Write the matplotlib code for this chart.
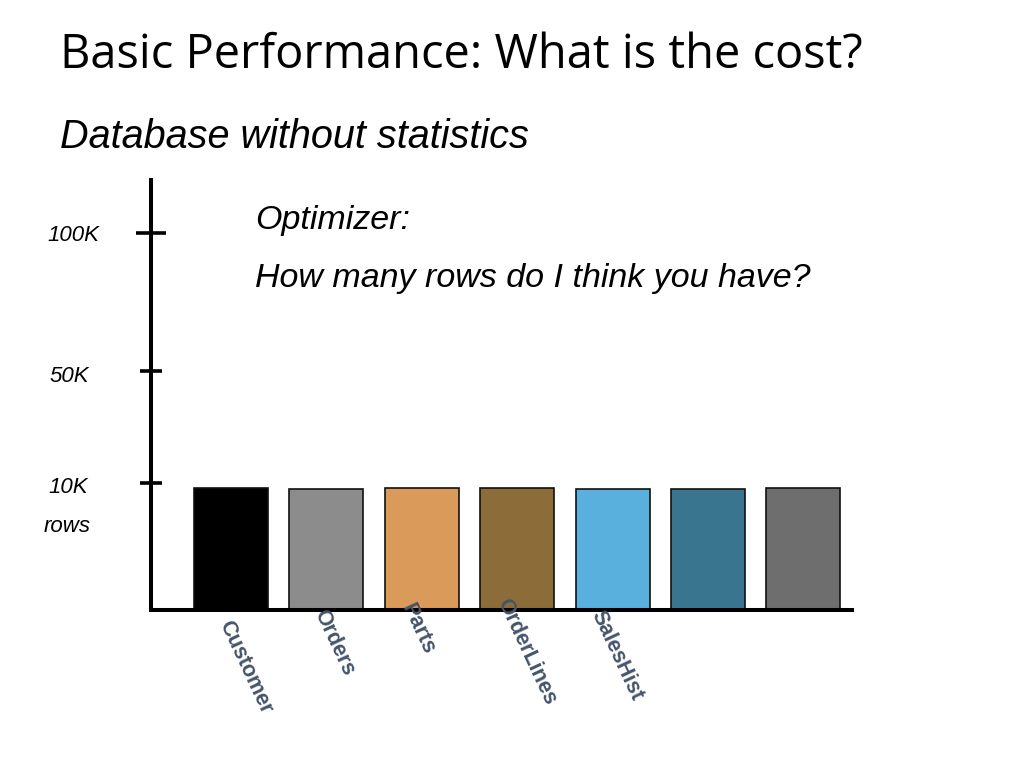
import numpy as np
import matplotlib
matplotlib.use("Agg")
import matplotlib.pyplot as plt
from matplotlib.transforms import blended_transform_factory

# ---- data ----
categories = ["Customer", "Orders", "Parts", "OrderLines", "SalesHist", "", ""]
rows_estimate = [9600, 9520, 9600, 9600, 9520, 9520, 9600]
bar_colors = ["#000000", "#8c8c8c", "#d99a5a", "#8c6d3a", "#5ab0dc", "#3a7590", "#6e6e6e"]
tick_values = [10000, 50000]
tick_major_value = [100000]
tick_labels = ["10K", "50K"]
tick_major_label = ["100K"]

# hand-drawn, non-linear axis of the slide: value -> drawing units
scale_vals = np.array([0, 10000, 50000, 100000, 150000], dtype=float)
scale_pos = np.array([0, 126, 238, 375, 512], dtype=float)

def fwd(v):
    return np.interp(v, scale_vals, scale_pos)

def inv(p):
    return np.interp(p, scale_pos, scale_vals)

W, H = 1024, 768
fig = plt.figure(figsize=(W / 100, H / 100), dpi=100)

def fx(px):
    return px / W

def fy(py):
    return 1 - py / H

ax = fig.add_axes([fx(151), fy(610), fx(852) - fx(151), fy(178) - fy(610)])
ax.set_yscale("function", functions=(fwd, inv))

x = np.arange(len(categories))
ax.bar(x, rows_estimate, width=0.776, color=bar_colors, edgecolor="#111111", linewidth=1.2, zorder=2)
ax.set_xlim(-0.839, 6.51)
ax.set_ylim(0, 120000)

for s in ["top", "right"]:
    ax.spines[s].set_visible(False)
ax.spines["left"].set_linewidth(2.9)
ax.spines["bottom"].set_linewidth(2.9)
ax.spines["left"].set_capstyle("butt")
ax.set_xticks([])
ax.set_yticks(tick_values)
ax.set_yticks(tick_major_value, minor=True)
ax.set_yticklabels([])
ax.yaxis.set_minor_formatter(plt.NullFormatter())
ax.tick_params(axis="y", which="major", direction="inout", length=16, width=2.6, color="black")
ax.tick_params(axis="y", which="minor", direction="inout", length=21.5, width=2.6, color="black")

# y labels (placed by hand on the slide, slightly below their ticks)
yt = blended_transform_factory(fig.transFigure, ax.transData)
label_x = [48, 50, 47]
label_ydrop = [4, 6, 2]
for v, lab, lx, dy in zip(tick_values + tick_major_value, tick_labels + tick_major_label,
                          label_x, label_ydrop):
    ax.annotate(lab, xy=(fx(lx), v), xycoords=yt, xytext=(0, -dy * 0.72),
                textcoords="offset points", ha="left", va="center",
                fontsize=16, style="italic", family="Liberation Sans",
                annotation_clip=False)
ax.text(fx(67), fy(526), "rows", transform=fig.transFigure, ha="center", va="center",
        fontsize=16, style="italic", family="Liberation Sans")

# category labels (hand placed on slide)
label_dy = [-7, 4, 10, 15, 3, 0, 0]
label_dx = [3, 2, -6, -6, -7, 0, 0]
for xi, lab, dx, dy in zip(x, categories, label_dx, label_dy):
    if not lab:
        continue
    ax.annotate(lab, xy=(xi, 0), xycoords=("data", "axes fraction"),
                xytext=(dx * 0.72, dy * 0.72), textcoords="offset points",
                rotation=-65, rotation_mode="anchor", ha="left", va="top",
                fontsize=15.5, fontweight="bold", color="#44546a",
                family="Liberation Sans", annotation_clip=False)

# titles / text
fig.text(fx(60), fy(68), "Basic Performance: What is the cost?", ha="left", va="baseline",
         fontsize=33.8, family="Open Sans", color="black")
fig.text(fx(60), fy(148), "Database without statistics", ha="left", va="baseline",
         fontsize=28.5, style="italic", family="Liberation Sans", color="black")
fig.text(fx(255), fy(229), "Optimizer:", ha="left", va="baseline",
         fontsize=24.5, style="italic", family="Liberation Sans", color="black")
fig.text(fx(255), fy(287), "How many rows do I think you have?", ha="left", va="baseline",
         fontsize=24.5, style="italic", family="Liberation Sans", color="black")

fig.savefig("out.png", dpi=100)
